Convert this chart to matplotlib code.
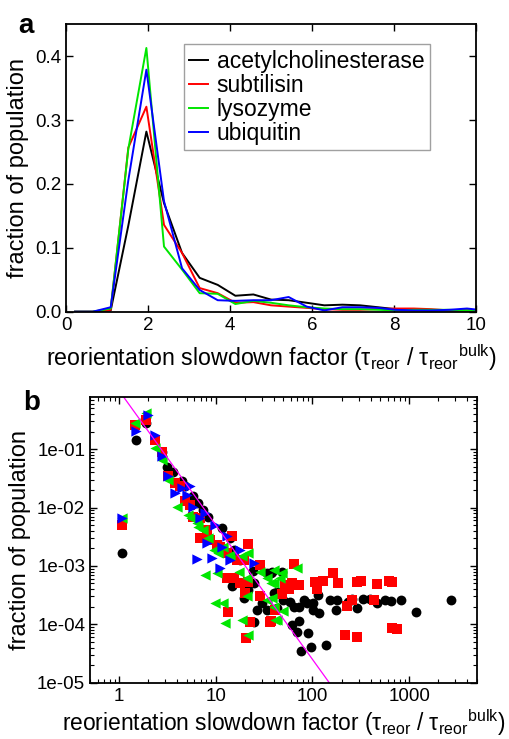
import numpy as np
import matplotlib
matplotlib.use("Agg")
import matplotlib.pyplot as plt
from matplotlib.ticker import FuncFormatter, LogLocator, NullFormatter

plt.rcParams['font.family'] = ['Liberation Sans', 'DejaVu Sans']
plt.rcParams['mathtext.fontset'] = 'custom'
plt.rcParams['mathtext.rm'] = 'Liberation Sans'

# panel a: distribution of slowdown factors (linear bins)
bins = [0.22, 0.65, 1.09, 1.52, 1.96, 2.39, 2.83, 3.26, 3.70, 4.13, 4.57, 5.00,
        5.43, 5.87, 6.30, 6.74, 7.17, 7.61, 8.04, 8.48, 8.91, 9.35, 9.78, 10.2]
ache = [0.0, 0.0, 0.002, 0.135, 0.282, 0.170, 0.092, 0.053, 0.042, 0.025, 0.027, 0.019,
        0.018, 0.014, 0.010, 0.011, 0.010, 0.007, 0.004, 0.003, 0.002, 0.002, 0.002, 0.002]
subt = [0.0, 0.0, 0.003, 0.257, 0.321, 0.136, 0.092, 0.037, 0.029, 0.014, 0.015, 0.010,
        0.008, 0.006, 0.004, 0.003, 0.003, 0.004, 0.005, 0.005, 0.004, 0.002, 0.002, 0.002]
lyso = [0.0, 0.0, 0.005, 0.255, 0.413, 0.102, 0.066, 0.029, 0.028, 0.012, 0.017, 0.014,
        0.010, 0.007, 0.005, 0.004, 0.004, 0.003, 0.002, 0.003, 0.003, 0.003, 0.002, 0.002]
ubiq = [0.0, 0.0, 0.007, 0.206, 0.379, 0.173, 0.068, 0.034, 0.018, 0.017, 0.018, 0.018,
        0.023, 0.008, 0.002, 0.007, 0.007, 0.006, 0.003, 0.002, 0.002, 0.003, 0.005, 0.002]
names = ['acetylcholinesterase', 'subtilisin', 'lysozyme', 'ubiquitin']
colors = ['black', '#ff0000', '#00e600', '#0000ff']

# panel b: same distributions on log-log scale
ache_x = [1.06, 1.49, 1.92, 2.75, 3.15, 3.63, 4.44, 4.8, 5.86, 6.6, 7.45, 8.4, 11.5, 14.1,
          15.3, 17.9, 14.7, 19.4, 21.8, 24.6, 26.7, 24.6, 30.0, 33.8, 39.7, 43, 33.8, 24.0,
          37, 38, 48, 43, 50, 59, 64, 72, 81, 87, 102, 118, 115, 102, 152, 178, 176, 254,
          235, 286, 336, 394, 460, 561, 657, 833, 1171, 2730, 61, 72, 69, 91, 96, 76, 138]
ache_y = [1.65e-3, 0.141, 0.279, 0.091, 0.050, 0.041, 0.028, 0.023, 0.0155, 0.0119, 0.0091,
          0.0070, 0.0044, 0.0030, 0.00188, 0.00127, 4.5e-4, 2.8e-4, 3.9e-4, 5e-4, 1.76e-4,
          1.1e-4, 2.29e-4, 7.5e-4, 3.4e-4, 1.88e-4, 1.76e-4, 8.3e-4, 7.5e-4, 8.0e-4, 8.0e-4,
          3.6e-4, 2.6e-4, 2.45e-4, 2.0e-4, 2.0e-4, 2.6e-4, 2.3e-4, 1.76e-4, 1.58e-4, 3.2e-4,
          2.3e-4, 2.6e-4, 2.65e-4, 1.76e-4, 2.75e-4, 2.45e-4, 1.9e-4, 2.75e-4, 2.75e-4,
          2.3e-4, 2.65e-4, 2.55e-4, 2.65e-4, 1.65e-4, 2.65e-4, 9.7e-5, 1.16e-4, 7.5e-5,
          7e-5, 4.1e-5, 3.5e-5, 4.5e-5]
subt_x = [1.06, 1.45, 1.92, 2.34, 2.75, 3.22, 3.78, 4.27, 4.80, 5.41, 5.86, 6.86, 6.86, 8.07,
          8.74, 10.2, 11.1, 13.0, 15.3, 16.5, 19.4, 21.8, 13.0, 15.3, 17.9, 21.8, 20.1, 28.9,
          28.9, 13.5, 22.7, 36.2, 41, 20.6, 14.7, 41, 37, 49, 52, 57, 61, 65, 73, 106, 111,
          130, 162, 185, 217, 230, 254, 291, 291, 315, 432, 468, 622, 673, 673, 752]
subt_y = [5.0e-3, 0.261, 0.319, 0.145, 0.091, 0.034, 0.026, 0.023, 0.0127, 0.0111, 0.0070,
          0.0066, 0.0030, 0.0041, 0.0028, 0.0023, 0.00214, 0.00165, 0.00144, 0.00127,
          0.00127, 0.0024, 6.2e-4, 6.2e-4, 5e-4, 5.4e-4, 3.5e-4, 3.0e-4, 1.04e-3, 1.65e-4,
          1.1e-4, 1.1e-4, 1.76e-4, 5.8e-5, 3.2e-3, 1.76e-4, 1.16e-4, 3.3e-4, 4.7e-4, 4.0e-4,
          5e-4, 1.08e-3, 4.7e-4, 5.4e-4, 4.0e-4, 5.6e-4, 7.5e-4, 5e-4, 6.6e-5, 2.06e-4,
          2.6e-4, 6.1e-5, 5.4e-4, 5.6e-4, 2.65e-4, 4.9e-4, 5.6e-4, 5.4e-4, 8.8e-5, 8.3e-5]
lyso_x = [1.06, 1.45, 1.92, 2.34, 2.75, 3.22, 3.94, 5.2, 5.6, 6.35, 6.6, 7.45, 8.4, 9.5, 10.6,
          12.0, 14.1, 18.6, 17.2, 21, 21, 28.9, 33.8, 39.7, 33.8, 39.7, 18.6, 21.8, 9.85,
          12.0, 12.5, 7.74, 10.3, 43, 21.8, 37, 40, 48, 46, 69, 50, 41, 38]
lyso_y = [6.6e-3, 0.279, 0.414, 0.104, 0.066, 0.030, 0.0104, 0.0075, 0.0066, 0.0054, 0.0047,
          0.0041, 0.0030, 0.00188, 0.00165, 0.0021, 0.00155, 0.00145, 8e-4, 6.2e-4, 3.0e-4,
          8e-4, 6.2e-4, 5e-4, 2.6e-4, 2.0e-4, 1.18e-4, 6.6e-5, 2.3e-4, 2.3e-4, 1.04e-4,
          7.0e-4, 7.5e-4, 1.18e-4, 0.00165, 5e-4, 8.5e-4, 7.7e-4, 6.2e-4, 9.1e-4, 1.7e-4,
          1.2e-4, 2.8e-4]
ubiq_x = [1.06, 1.51, 2.0, 2.34, 2.75, 3.22, 3.78, 4.44, 5.41, 5.0, 5.86, 6.86, 7.74, 9.85,
          8.07, 9.1, 6.35, 11.1, 14.1, 17.9, 24.6, 13.0, 11.5]
ubiq_y = [6.6e-3, 0.201, 0.388, 0.176, 0.075, 0.035, 0.0176, 0.0214, 0.023, 0.0165, 0.0104,
          0.0066, 0.008, 0.005, 0.00245, 0.00135, 0.0013, 9.1e-4, 0.00127, 0.00188, 0.00111,
          0.0032, 0.00214]
power_law = -2.3

xlabel = 'reorientation slowdown factor (τ$_{\\rm reor}$ / τ$_{\\rm reor}$$^{\\rm bulk}$)'


def style_axes(ax):
	for s in ax.spines.values():
		s.set_linewidth(1.3)
	ax.tick_params(which='both', direction='in', top=True, right=True, labelsize=13.5)
	ax.tick_params(which='major', length=5, width=1.0)
	ax.tick_params(which='minor', length=2.8, width=0.8)


def plot_hist(fig):
	ax = fig.add_axes([0.1297, 0.5782, 0.8055, 0.3889])
	for y, c, n in zip([ache, subt, lyso, ubiq], colors, names):
		ax.plot(bins, y, color=c, lw=1.4, label=n)
	ax.set_xlim(0, 10)
	ax.set_ylim(0, 0.45)
	ax.set_xticks([0, 2, 4, 6, 8, 10])
	ax.set_yticks([0, 0.1, 0.2, 0.3, 0.4])
	ax.yaxis.set_major_formatter(FuncFormatter(lambda v, p: '%.1f' % v))
	style_axes(ax)
	ax.set_ylabel('fraction of population', fontsize=17, labelpad=4)
	ax.set_xlabel(xlabel, fontsize=16.7, labelpad=6)
	leg = ax.legend(loc='upper right', bbox_to_anchor=(0.888, 0.931), borderaxespad=0,
	                fontsize=16.5, handlelength=0.8, handletextpad=0.4, labelspacing=0.04,
	                fancybox=False, edgecolor='#888888', borderpad=0.25)
	leg.get_frame().set_linewidth(1.0)
	fig.text(0.035, 0.955, 'a', fontsize=20, fontweight='bold')


def plot_loglog(fig):
	ax = fig.add_axes([0.1768, 0.0762, 0.7597, 0.387])
	ax.scatter(ache_x, ache_y, s=50, marker='o', color=colors[0], lw=0)
	ax.scatter(subt_x, subt_y, s=44, marker='s', color=colors[1], lw=0)
	ax.scatter(lyso_x, lyso_y, s=55, marker='<', color=colors[2], lw=0)
	ax.scatter(ubiq_x, ubiq_y, s=55, marker='>', color=colors[3], lw=0)
	xx = np.array([0.5, 5000.0])
	ax.plot(xx, xx ** power_law, color='#ff00ff', lw=0.9)
	ax.set_xscale('log')
	ax.set_yscale('log')
	ax.set_xlim(0.5, 5000)
	ax.set_ylim(1e-5, 0.79)
	ax.set_xticks([1, 10, 100, 1000])
	ax.xaxis.set_major_formatter(FuncFormatter(lambda v, p: '%d' % v))
	ax.set_yticks([1e-5, 1e-4, 1e-3, 1e-2, 1e-1])
	ax.yaxis.set_major_formatter(FuncFormatter(lambda v, p: '%.0e' % v))
	ax.xaxis.set_minor_locator(LogLocator(base=10, subs=np.arange(2, 10), numticks=20))
	ax.yaxis.set_minor_locator(LogLocator(base=10, subs=np.arange(2, 10), numticks=20))
	ax.xaxis.set_minor_formatter(NullFormatter())
	ax.yaxis.set_minor_formatter(NullFormatter())
	style_axes(ax)
	ax.set_ylabel('fraction of population', fontsize=17, labelpad=4)
	ax.set_xlabel(xlabel, fontsize=16.4, labelpad=2)
	fig.text(0.045, 0.445, 'b', fontsize=20, fontweight='bold')


def main(plot_filename='out.png'):
	fig = plt.figure(figsize=(5.09, 7.39), dpi=100)
	plot_hist(fig)
	plot_loglog(fig)
	fig.savefig(plot_filename, dpi=100)


if __name__ == "__main__":
	main()
